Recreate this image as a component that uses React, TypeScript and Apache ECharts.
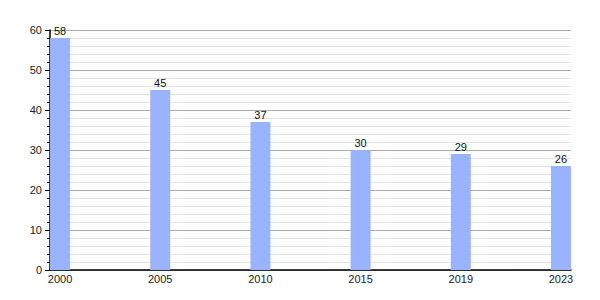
import React, { useEffect, useRef } from "react";
import * as echarts from "echarts";

const years = ["2000", "2005", "2010", "2015", "2019", "2023"];
const values = [58, 45, 37, 30, 29, 26];
const yTicks = [0, 10, 20, 30, 40, 50, 60];

export default function App() {
  const ref = useRef<HTMLDivElement>(null);
  useEffect(() => {
    if (!ref.current) return;
    const chart = echarts.init(ref.current, null, { renderer: "svg" });
    const font = "'Liberation Sans', Arial, sans-serif";
    chart.setOption({
      animation: false,
      grid: { left: 50, right: 29, top: 30, bottom: 30, containLabel: false },
      xAxis: {
        type: "value",
        min: -0.1,
        max: 5.1,
        axisLine: { show: true, onZero: false, lineStyle: { color: "#000", width: 1.5 } },
        axisTick: { show: false },
        splitLine: { show: false },
        axisLabel: {
          customValues: years.map((_, i) => i),
          formatter: (v: number) => years[Math.round(v)] ?? "",
          color: "#222",
          fontSize: 11,
          fontFamily: font,
          margin: 3,
        },
      },
      yAxis: {
        type: "value",
        min: yTicks[0],
        max: yTicks[yTicks.length - 1],
        interval: 10,
        axisLine: { show: true, onZero: false, lineStyle: { color: "#000", width: 1.5 } },
        axisTick: { show: true, length: 5, lineStyle: { color: "#000" } },
        minorTick: { show: true, splitNumber: 5, length: 3, lineStyle: { color: "#000" } },
        splitLine: { show: true, lineStyle: { color: "#aaa", width: 1 } },
        minorSplitLine: { show: true, lineStyle: { color: "#e2e2e2", width: 1 } },
        axisLabel: { color: "#222", fontSize: 11, fontFamily: font, margin: 8 },
      },
      series: [
        {
          type: "bar",
          data: values.map((v, i) => [i, v]),
          barWidth: 20,
          itemStyle: { color: "#99b3ff" },
          label: {
            show: true,
            position: "top",
            distance: 2,
            color: "#111",
            fontSize: 11,
            fontFamily: font,
          },
        },
      ],
    });
    return () => chart.dispose();
  }, []);
  return (
    <div
      ref={ref}
      style={{ position: "fixed", left: 0, top: 0, width: 600, height: 300, background: "#fff" }}
    />
  );
}
